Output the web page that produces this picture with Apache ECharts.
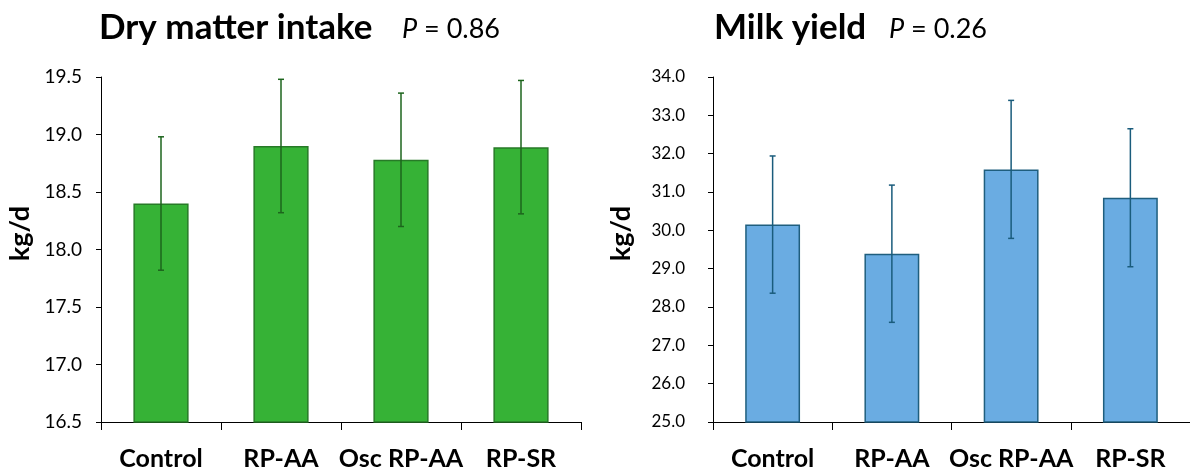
<!DOCTYPE html>
<html lang="en">
<head>
    <meta charset="utf-8">
    <title>Dry matter intake / Milk yield</title>
    <script src="https://cdn.jsdelivr.net/npm/echarts@6/dist/echarts.min.js"></script>
    <style>
        html, body { margin: 0; padding: 0; background: #fff; }
        #chart { width: 1190px; height: 468px; }
    </style>
</head>
<body>
    <div id="chart"></div>
    <script type="text/javascript">
        // treatments
        var categories = ["Control", "RP-AA", "Osc RP-AA", "RP-SR"];
        // dry matter intake, kg/d (mean and SE)
        var dmiMean = [18.40, 18.90, 18.78, 18.89];
        var dmiSE = [0.58, 0.58, 0.58, 0.58];
        // milk yield, kg/d (mean and SE)
        var milkMean = [30.15, 29.39, 31.59, 30.85];
        var milkSE = [1.79, 1.79, 1.80, 1.80];

        var FONT = "Lato, 'Open Sans', sans-serif";

        function errData(mean, se) {
            return mean.map(function (m, i) { return [i, m - se[i], m + se[i]]; });
        }

        function errSeries(idx, data, color) {
            return {
                type: "custom",
                xAxisIndex: idx,
                yAxisIndex: idx,
                z: 5,
                data: data,
                renderItem: function (params, api) {
                    var lo = api.coord([api.value(0), api.value(1)]);
                    var hi = api.coord([api.value(0), api.value(2)]);
                    var w = 3;
                    var st = { stroke: color, lineWidth: 1.5 };
                    return {
                        type: "group",
                        children: [
                            { type: "line", shape: { x1: lo[0], y1: lo[1], x2: hi[0], y2: hi[1] }, style: st },
                            { type: "line", shape: { x1: lo[0] - w, y1: lo[1], x2: lo[0] + w, y2: lo[1] }, style: st },
                            { type: "line", shape: { x1: hi[0] - w, y1: hi[1], x2: hi[0] + w, y2: hi[1] }, style: st }
                        ]
                    };
                }
            };
        }

        function xAxisOf(idx) {
            return {
                type: "category",
                gridIndex: idx,
                data: categories,
                axisLine: { lineStyle: { color: "#000", width: 1 } },
                axisTick: { show: true, interval: 0, length: 8, lineStyle: { color: "#000" } },
                axisLabel: { interval: 0, color: "#000", fontFamily: FONT, fontWeight: "bold", fontSize: 25, margin: 24 }
            };
        }

        function yAxisOf(idx, min, max, step, fs, margin, nameFs, gap) {
            return {
                type: "value",
                gridIndex: idx,
                min: min,
                max: max,
                interval: step,
                name: "kg/d",
                nameLocation: "middle",
                nameGap: gap,
                nameRotate: 90,
                nameTextStyle: { color: "#000", fontFamily: FONT, fontWeight: "bold", fontSize: nameFs,
                    padding: [0, 0, 0, 32] },
                axisLine: { show: true, lineStyle: { color: "#000", width: 1 } },
                axisTick: { show: true, length: 5, lineStyle: { color: "#000" } },
                splitLine: { show: false },
                axisLabel: {
                    color: "#000", fontFamily: FONT, fontSize: fs, margin: margin,
                    formatter: function (v) { return v.toFixed(1); }
                }
            };
        }

        var chart = echarts.init(document.getElementById("chart"));
        chart.setOption({
            backgroundColor: "#fff",
            animation: false,
            title: [
                { text: "Dry matter intake", left: 94, top: 5,
                  textStyle: { fontFamily: FONT, fontWeight: "bold", fontSize: 35, color: "#000" } },
                { text: "{i|P} = 0.86", left: 397, top: 11,
                  textStyle: { fontFamily: FONT, fontWeight: "normal", fontSize: 27, color: "#000",
                      rich: { i: { fontFamily: FONT, fontStyle: "italic", fontSize: 27, color: "#000" } } } },
                { text: "Milk yield", left: 709, top: 5,
                  textStyle: { fontFamily: FONT, fontWeight: "bold", fontSize: 35, color: "#000" } },
                { text: "{i|P} = 0.26", left: 884, top: 11,
                  textStyle: { fontFamily: FONT, fontWeight: "normal", fontSize: 27, color: "#000",
                      rich: { i: { fontFamily: FONT, fontStyle: "italic", fontSize: 27, color: "#000" } } } }
            ],
            grid: [
                { left: 101, right: 609, top: 77, bottom: 46, containLabel: false, outerBoundsMode: "none" },
                { left: 713, right: 0, top: 77, bottom: 46, containLabel: false, outerBoundsMode: "none" }
            ],
            xAxis: [xAxisOf(0), xAxisOf(1)],
            yAxis: [yAxisOf(0, 16.5, 19.5, 0.5, 19, 19, 27, 67), yAxisOf(1, 25, 34, 1, 17, 28, 27, 78)],
            series: [
                {
                    type: "bar", xAxisIndex: 0, yAxisIndex: 0, barWidth: "46%",
                    itemStyle: { color: "#36b236", borderColor: "#277a27", borderWidth: 1.5 },
                    data: dmiMean
                },
                errSeries(0, errData(dmiMean, dmiSE), "#1d651d"),
                {
                    type: "bar", xAxisIndex: 1, yAxisIndex: 1, barWidth: "46%",
                    itemStyle: { color: "#6aace2", borderColor: "#1f5e7e", borderWidth: 1.5 },
                    data: milkMean
                },
                errSeries(1, errData(milkMean, milkSE), "#1a5c7c")
            ]
        });
    </script>
</body>
</html>
